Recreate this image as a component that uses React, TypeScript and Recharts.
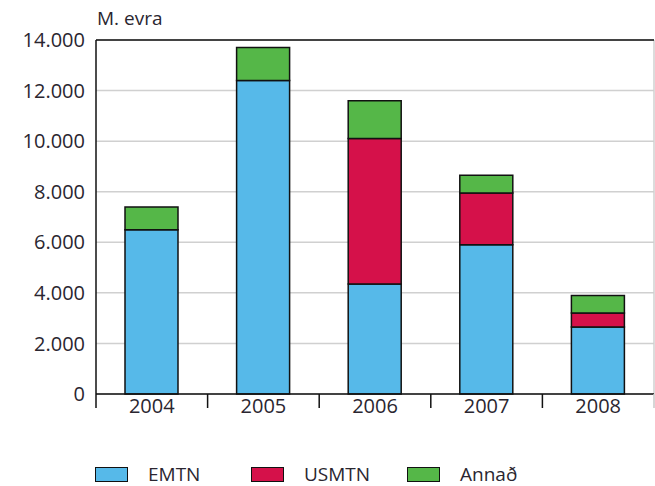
import { Bar, BarChart, CartesianGrid, ReferenceLine, XAxis, YAxis } from "recharts"

const years = ["2004", "2005", "2006", "2007", "2008"]
const emtn = [6500, 12400, 4350, 5900, 2650]
const usmtn = [0, 0, 5750, 2050, 550]
const annad = [900, 1300, 1500, 700, 700]
const yTicks = [0, 2000, 4000, 6000, 8000, 10000, 12000, 14000]

const series = [
  { key: "emtn", name: "EMTN", color: "#56b9e9" },
  { key: "usmtn", name: "USMTN", color: "#d5114a" },
  { key: "annad", name: "Annað", color: "#55b748" },
]

const data = years.map((year, i) => ({
  year,
  emtn: emtn[i],
  usmtn: usmtn[i],
  annad: annad[i],
}))

const font = "'Open Sans', sans-serif"
const textColor = "#2a2630"

const fmt = (v: number) => String(v).replace(/\B(?=(\d{3})+(?!\d))/g, ".")

// year label plus the tick marks that sit between the categories
const YearTick = (props: any) => {
  const { x, y, payload, index } = props
  const half = payload?.offset ?? 0
  const last = index === years.length - 1
  return (
    <g>
      <line x1={x - half} x2={x - half} y1={y} y2={y + 14} stroke="#111" strokeWidth={1.5} />
      {last && <line x1={x + half} x2={x + half} y1={y} y2={y + 14} stroke="#c8c8c8" strokeWidth={1.5} />}
      <text x={x} y={y + 5} dy="0.71em" textAnchor="middle" fontSize={20} fill={textColor} fontFamily={font}>
        {payload.value}
      </text>
    </g>
  )
}

const App = () => {
  return (
    <div style={{ position: "absolute", left: 0, top: 0, width: 655, height: 486, fontFamily: font }}>
      <div style={{ position: "absolute", left: 97, top: 5, fontSize: 19, color: textColor }}>M. evra</div>
      <BarChart width={655} height={486} data={data} margin={{ top: 40, right: 1, left: 0, bottom: 62 }} barSize={53}>
        <CartesianGrid
          horizontal={true}
          vertical={true}
          verticalCoordinatesGenerator={({ offset }: any) => [offset.left + offset.width]}
          stroke="#d0d0d0"
          strokeWidth={1.5}
        />
        <XAxis
          dataKey="year"
          height={30}
          tickLine={false}
          tickSize={0}
          tickMargin={0}
          axisLine={{ stroke: "#111", strokeWidth: 1.5 }}
          tick={<YearTick />}
          interval={0}
        />
        <YAxis
          width={96}
          domain={[0, 14000]}
          ticks={yTicks}
          tickFormatter={fmt}
          tickLine={false}
          tickSize={0}
          tickMargin={11}
          axisLine={{ stroke: "#111", strokeWidth: 1.5 }}
          tick={{ fontSize: 20, fill: textColor, fontFamily: font }}
        />
        <ReferenceLine y={14000} stroke="#111" strokeWidth={1.5} />
        {series.map((s) => (
          <Bar
            key={s.key}
            dataKey={s.key}
            name={s.name}
            stackId="a"
            fill={s.color}
            stroke="#111"
            strokeWidth={1.5}
            isAnimationActive={false}
          />
        ))}
      </BarChart>
      <div style={{ position: "absolute", left: 95, top: 464, display: "flex", alignItems: "center", fontSize: 19, lineHeight: "20px", color: textColor }}>
        {series.map((s) => (
          <div key={s.key} style={{ display: "flex", alignItems: "center", width: 156 }}>
            <div style={{ width: 31, height: 13, background: s.color, border: "1.5px solid #111", marginRight: 20 }} />
            <span>{s.name}</span>
          </div>
        ))}
      </div>
    </div>
  )
}

export default App
